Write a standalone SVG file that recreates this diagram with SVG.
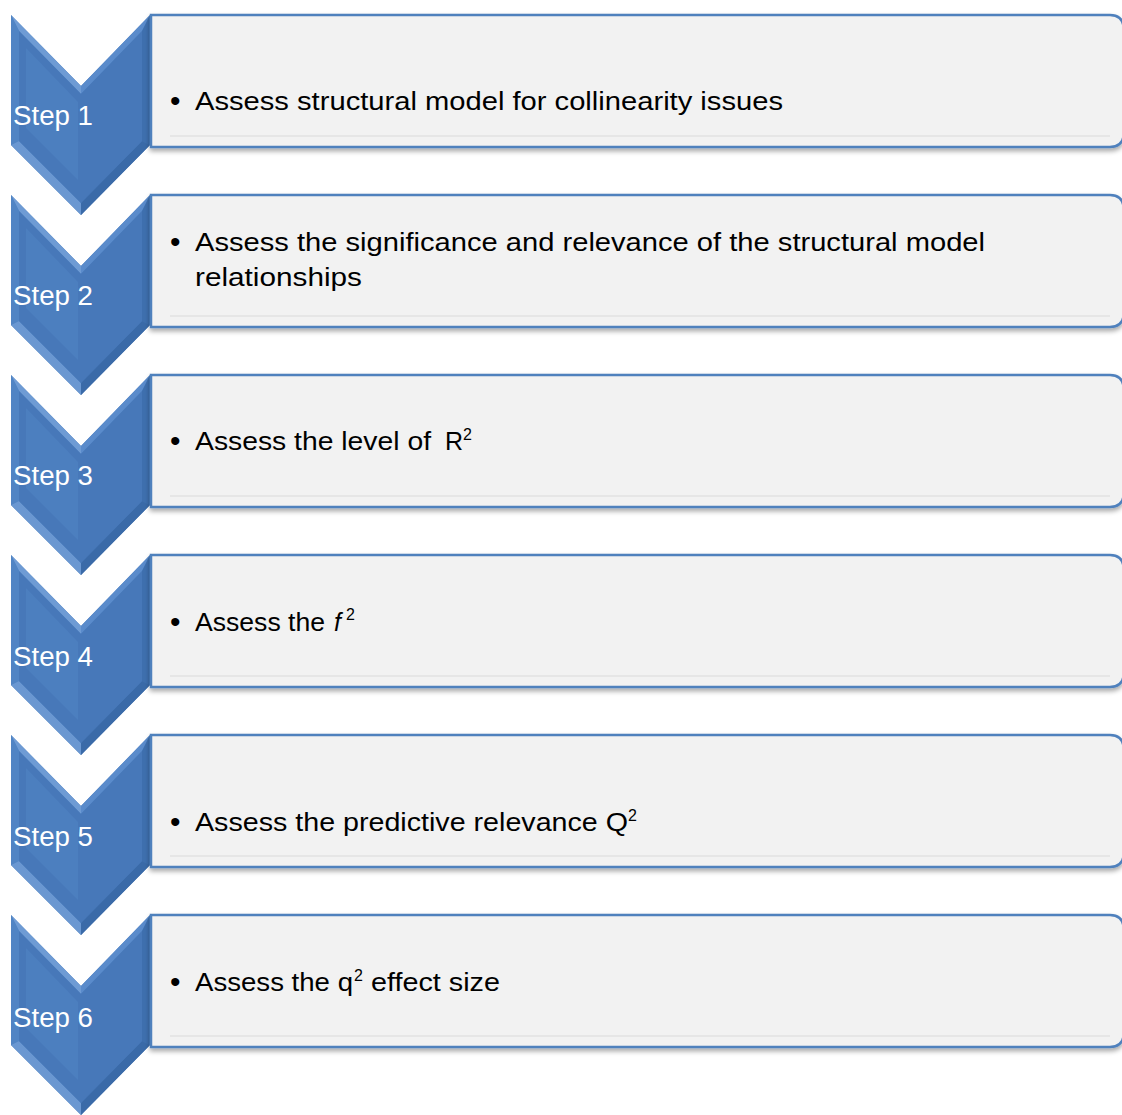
<svg xmlns="http://www.w3.org/2000/svg" width="1122" height="1115" viewBox="0 0 1122 1115">
<style>
.box{fill:#f2f2f2;stroke:#4f81bd;stroke-width:2.5}
.step{font-family:"Liberation Sans",Arial,sans-serif;font-size:27px;fill:#ffffff}
.txt{font-family:"Liberation Sans",Arial,sans-serif;font-size:25px;fill:#000000}
.bul{font-family:"Liberation Sans",Arial,sans-serif;font-size:30px;fill:#000000}
.sup{font-size:16px}
.hl{stroke:#e6e6e6;stroke-width:2;fill:none}
</style>
<defs>
<linearGradient id="cg" x1="0" y1="0" x2="0" y2="1">
<stop offset="0" stop-color="#5085c5"/>
<stop offset="1" stop-color="#4173b4"/>
</linearGradient>
<filter id="sh" x="-5%" y="-10%" width="110%" height="130%">
<feGaussianBlur in="SourceAlpha" stdDeviation="2.5"/>
<feOffset dy="3" result="b"/>
<feComponentTransfer><feFuncA type="linear" slope="0.35"/></feComponentTransfer>
<feMerge><feMergeNode/><feMergeNode in="SourceGraphic"/></feMerge>
</filter>
<g id="chev">
<path d="M11,15 L81,86 L150,15 L150,145 L81,215 L11,145 Z" fill="url(#cg)"/>
<path d="M11,15 L81,86 L81,94 L19,31 Z" fill="#6e9bd4"/>
<path d="M150,15 L81,86 L81,94 L142,31 Z" fill="#5a8bcb"/>
<path d="M11,15 L19,31 L19,141 L11,145 Z" fill="#5084c4"/>
<path d="M150,15 L142,31 L142,141 L150,145 Z" fill="#3e6fae"/>
<path d="M11,145 L19,141 L81,203 L81,215 Z" fill="#6a97d1"/>
<path d="M150,145 L142,141 L81,203 L81,215 Z" fill="#3a6aa8"/>
<path d="M19,31 L81,94 L142,31 L142,141 L81,203 L19,141 Z" fill="#4778b9"/>
<path d="M26,48 L78,102 L78,180 L26,128 Z" fill="#5388c8" opacity="0.45"/>
</g>
<g id="card">
<path d="M151,0 L1110,0 Q1122,0 1124,12 L1124,120 Q1122,132 1110,132 L151,132 Z" class="box"/>
<line x1="170" y1="121" x2="1110" y2="121" class="hl"/>
</g>
</defs>
<g id="step1"><use href="#chev"/><text class="step" x="13" y="125" textLength="80" lengthAdjust="spacingAndGlyphs">Step 1</text></g>
<g id="step2"><use href="#chev" transform="translate(0,180)"/><text class="step" x="13" y="305" textLength="80" lengthAdjust="spacingAndGlyphs">Step 2</text></g>
<g id="step3"><use href="#chev" transform="translate(0,360)"/><text class="step" x="13" y="485" textLength="80" lengthAdjust="spacingAndGlyphs">Step 3</text></g>
<g id="step4"><use href="#chev" transform="translate(0,540)"/><text class="step" x="13" y="666" textLength="80" lengthAdjust="spacingAndGlyphs">Step 4</text></g>
<g id="step5"><use href="#chev" transform="translate(0,720)"/><text class="step" x="13" y="846" textLength="80" lengthAdjust="spacingAndGlyphs">Step 5</text></g>
<g id="step6"><use href="#chev" transform="translate(0,900)"/><text class="step" x="13" y="1027" textLength="80" lengthAdjust="spacingAndGlyphs">Step 6</text></g>

<g id="box1" filter="url(#sh)"><use href="#card" transform="translate(0,15)"/></g>
<g id="box1-text"><text class="bul" x="170" y="111">•</text><text class="txt" x="195" y="110" textLength="588" lengthAdjust="spacingAndGlyphs">Assess structural model for collinearity issues</text></g>

<g id="box2" filter="url(#sh)"><use href="#card" transform="translate(0,195)"/></g>
<g id="box2-text"><text class="bul" x="170" y="252">•</text><text class="txt" x="195" y="251" textLength="790" lengthAdjust="spacingAndGlyphs">Assess the significance and relevance of the structural model</text><text class="txt" x="195" y="286" textLength="167" lengthAdjust="spacingAndGlyphs">relationships</text></g>

<g id="box3" filter="url(#sh)"><use href="#card" transform="translate(0,375)"/></g>
<g id="box3-text"><text class="bul" x="170" y="451">•</text><text class="txt" x="195" y="450" textLength="236" lengthAdjust="spacingAndGlyphs">Assess the level of</text><text class="txt" x="445" y="450">R</text><text class="txt sup" x="463" y="440">2</text></g>

<g id="box4" filter="url(#sh)"><use href="#card" transform="translate(0,555)"/></g>
<g id="box4-text"><text class="bul" x="170" y="632">•</text><text class="txt" x="195" y="631" textLength="130" lengthAdjust="spacingAndGlyphs">Assess the</text><text class="txt" x="334" y="631" font-style="italic">f</text><text class="txt sup" x="346" y="620">2</text></g>

<g id="box5" filter="url(#sh)"><use href="#card" transform="translate(0,735)"/></g>
<g id="box5-text"><text class="bul" x="170" y="832">•</text><text class="txt" x="195" y="831" textLength="433" lengthAdjust="spacingAndGlyphs">Assess the predictive relevance Q</text><text class="txt sup" x="628" y="821">2</text></g>

<g id="box6" filter="url(#sh)"><use href="#card" transform="translate(0,915)"/></g>
<g id="box6-text"><text class="bul" x="170" y="992">•</text><text class="txt" x="195" y="991" textLength="158" lengthAdjust="spacingAndGlyphs">Assess the q</text><text class="txt sup" x="354" y="981">2</text><text class="txt" x="371" y="991" textLength="129" lengthAdjust="spacingAndGlyphs">effect size</text></g>
</svg>
